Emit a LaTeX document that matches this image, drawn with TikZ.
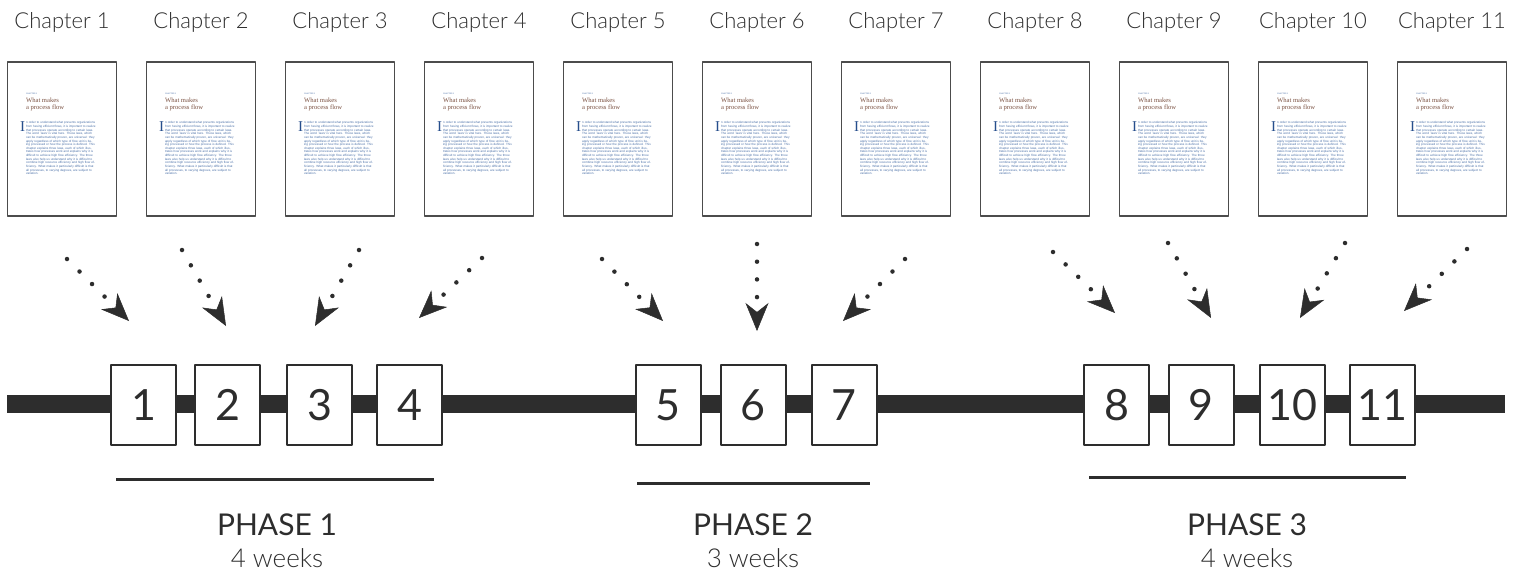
\documentclass[tikz,border=0pt]{standalone}
\usepackage{fontspec}
\setmainfont{Lato}
\newfontfamily\lightfont{Lato Light}
\newfontfamily\pageserif{Liberation Serif}
\newfontfamily\pagesans{Liberation Sans}
\usetikzlibrary{arrows.meta,calc}
\definecolor{ink}{RGB}{45,45,45}
\definecolor{titlebrown}{RGB}{122,80,64}
\definecolor{textblue}{RGB}{74,112,168}
\definecolor{capblue}{RGB}{38,78,140}
\newcommand{\bigI}{\llap{\smash{\raisebox{-7.3pt}{\pageserif\fontsize{15}{15}\selectfont\color{capblue}I}}\kern0.9pt}}
\newcommand{\samplebody}{n order to understand what prevents organizations from having efficient flows, it is important to realize that processes operate according to certain laws. The word `laws' is vital here. These laws, which can be mathematically proven, are universal: they apply regardless of which type of flow unit is being processed or how the process is defined. This chapter explains three laws, each of which illustrates how processes work and explains why it is difficult to achieve high flow efficiency. The three laws also help us understand why it is difficult to combine high resource efficiency and high flow efficiency. What makes it particularly difficult is that all processes, to varying degrees, are subject to variation.}
\begin{document}
\begin{tikzpicture}[x=1pt, y=-1pt, line join=round,
	chapterlabel/.style={font={\lightfont\fontsize{22}{22}\selectfont}, text=ink, anchor=base},
	pagebox/.style={draw=ink!85, line width=1.3pt, fill=white, minimum width=109pt, minimum height=154pt, inner sep=0pt},
	pagetag/.style={font={\pagesans\fontsize{2}{2}\selectfont}, text=textblue, anchor=west, inner sep=0pt},
	pagetitle/.style={font={\pageserif\fontsize{6.6}{7}\selectfont}, text=titlebrown, anchor=north west, align=left, inner sep=0pt},
	pagebody/.style={font={\pagesans\fontsize{3.05}{3.65}\selectfont\tolerance=9999\emergencystretch=3pt}, text=textblue, text width=70pt, anchor=north west, inner sep=0pt},
	numbox/.style={draw=ink, line width=2pt, fill=white, minimum width=65pt, minimum height=80pt, inner sep=0pt, font={\fontsize{43}{43}\selectfont}, text=ink},
	dotarrow/.style={draw=ink, line width=4.5pt, line cap=round, dash pattern=on 0pt off 17.7pt, -{Stealth[length=28pt, width=23pt, inset=9pt, line width=0.5pt]}},
	timeline/.style={draw=ink, line width=18pt},
	phaseline/.style={draw=ink, line width=3pt},
	phasetitle/.style={font={\fontsize{30}{30}\selectfont}, text=ink, anchor=base},
	phaseweeks/.style={font={\lightfont\fontsize{26}{26}\selectfont}, text=ink, anchor=base}]
	\useasboundingbox (0,0) rectangle (1523,578);
	% chapter pages
	\foreach \i in {1,...,11}{
		\pgfmathsetmacro\px{62+139*(\i-1)}
		\node[chapterlabel] (ch\i) at (\px,29) {Chapter \i};
		\node[pagebox] (pg\i) at (\px,139) {};
		\node[pagetag] (tag\i) at ($(pg\i.north west)+(19,32)$) {CHAPTER 1};
		\node[pagetitle] (tt\i) at ($(pg\i.north west)+(19,36)$) {What makes\\a process flow};
		\node[pagebody] (bd\i) at ($(pg\i.north west)+(19,60)$) {\noindent\hangindent=6.2pt\hangafter=-3\bigI\samplebody};
	}
	% timeline
	\coordinate (lineL) at (7,404);
	\coordinate (lineR) at (1505,404);
	\draw[timeline] (lineL) -- (lineR);
	\foreach \i/\bx in {1/143.5,2/227.5,3/319.5,4/409.5,5/668,6/753,7/844,8/1116.5,9/1201,10/1292.5,11/1382}
		\node[numbox] (b\i) at (\bx,405) {\i};
	% arrows
	\foreach \i/\sx/\sy/\tx/\ty in {1/67/259/129/321, 2/182/250/226/326, 3/359/250/315/326, 4/482/258/419/318,
		5/602/259/663/321, 6/757/244/757/331, 7/905/259/843/321,
		8/1053/252/1115/313, 9/1168/243/1211/318, 10/1345/243/1300/318, 11/1467/249/1404/311}{
		\coordinate (s\i) at (\sx,\sy);
		\coordinate (t\i) at (\tx,\ty);
		\draw[dotarrow] (s\i) -- (t\i);
	}
	% phases
	\foreach \p/\la/\lb/\ly/\cx/\wk in {1/116/434/479/277/4, 2/637/870/483/753/3, 3/1089/1406/477/1247/4}{
		\coordinate (pl\p) at (\la,\ly);
		\coordinate (pr\p) at (\lb,\ly);
		\draw[phaseline] (pl\p) -- (pr\p);
		\node[phasetitle] (ph\p) at (\cx,535) {PHASE \p};
		\node[phaseweeks] (wk\p) at (\cx,567) {\wk{} weeks};
	}
\end{tikzpicture}
\end{document}
